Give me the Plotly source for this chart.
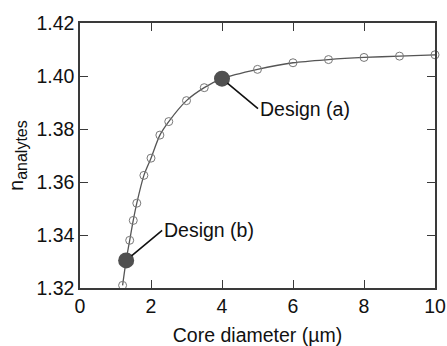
import plotly.graph_objects as go

# Analyte refractive index versus fibre core diameter
core_diameter = [1.2, 1.3, 1.4, 1.5, 1.6, 1.8, 2.0, 2.25, 2.5, 3.0, 3.5, 4.0,
                 5.0, 6.0, 7.0, 8.0, 9.0, 10.0]
n_analytes = [1.3210, 1.3304, 1.3380, 1.3455, 1.3520, 1.3625, 1.3690, 1.3777,
              1.3828, 1.3907, 1.3956, 1.3990, 1.4025, 1.4050, 1.4062, 1.4070,
              1.4075, 1.4080]

# Highlighted design points
design_labels = ["Design (a)", "Design (b)"]
design_diameter = [4.0, 1.3]
design_n = [1.3990, 1.3304]
label_offsets = [(36, 30), (36, -30)]  # leader-line tail offsets in px

x_ticks = [0, 2, 4, 6, 8, 10]
y_ticks = [1.32, 1.34, 1.36, 1.38, 1.40, 1.42]

FONT = "Liberation Sans, Arial, sans-serif"
AXIS_COLOR = "#3a3a3a"
FS = 19.5

fig = go.Figure()

fig.add_trace(go.Scatter(
    x=core_diameter, y=n_analytes,
    mode="lines+markers",
    line=dict(color="#555555", width=1.3, shape="spline", smoothing=0.8),
    marker=dict(symbol="circle-open", size=8, color="#777777",
                line=dict(width=1, color="#777777")),
    cliponaxis=False,
    showlegend=False,
))

fig.add_trace(go.Scatter(
    x=design_diameter, y=design_n,
    mode="markers",
    marker=dict(symbol="circle", size=16, color="#505050"),
    cliponaxis=False,
    showlegend=False,
))

for label, xd, yd, (ax, ay) in zip(design_labels, design_diameter, design_n,
                                   label_offsets):
    fig.add_annotation(
        x=xd, y=yd, xref="x", yref="y",
        text=label, showarrow=True, arrowhead=0, arrowwidth=1.6,
        arrowcolor="#111111", standoff=7,
        ax=ax, ay=ay, xanchor="left", yanchor="middle",
        font=dict(family=FONT, size=FS, color="#111111"),
    )

axis_common = dict(
    showline=True, linecolor=AXIS_COLOR, linewidth=1.5, mirror="ticks",
    ticks="inside", ticklen=8, tickwidth=1.3, tickcolor=AXIS_COLOR,
    showgrid=False, zeroline=False, automargin=False,
    tickfont=dict(family=FONT, size=FS, color="#111111"),
)

fig.update_xaxes(
    range=[0, 10], tickvals=x_ticks,
    ticktext=[str(v) for v in x_ticks],
    title=dict(text="Core diameter (µm)", standoff=13,
               font=dict(family=FONT, size=FS, color="#111111")),
    **axis_common,
)
fig.update_yaxes(
    range=[1.32, 1.42], tickvals=y_ticks,
    ticktext=[f"{v:.2f}" for v in y_ticks],
    title=dict(text='n<sub><span style="font-size:16px">analytes</span></sub>',
               standoff=8,
               font=dict(family=FONT, size=FS, color="#111111")),
    **axis_common,
)

fig.update_layout(
    width=447, height=346,
    margin=dict(l=80, r=12, t=23, b=58),
    plot_bgcolor="white", paper_bgcolor="white",
    font=dict(family=FONT),
)

fig.write_html("out.html")
